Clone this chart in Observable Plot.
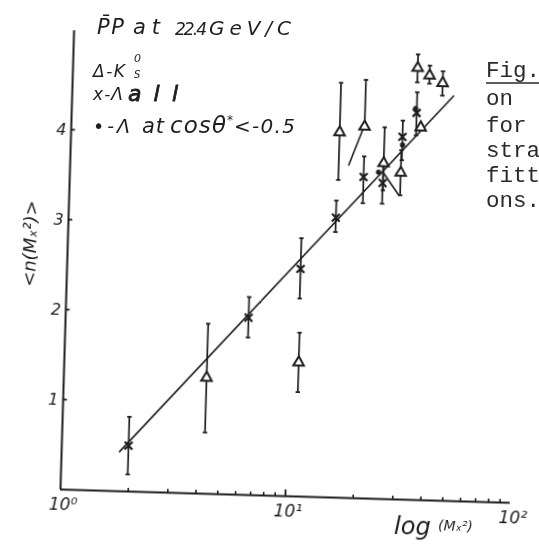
<!DOCTYPE html>
<html><head><meta charset="utf-8">
<script src="https://cdn.jsdelivr.net/npm/d3@7"></script>
<script src="https://cdn.jsdelivr.net/npm/@observablehq/plot@0.6"></script>
<style>
html,body{margin:0;padding:0;background:#fff;}
#wrap{position:relative;width:539px;height:548px;overflow:hidden;background:#fff;}
#chart{position:absolute;left:0;top:0;width:539px;height:548px;}
#overlay{position:absolute;left:0;top:0;}
</style></head><body>
<div id="wrap"><div id="chart"></div>
<svg id="overlay" width="539" height="548" xmlns="http://www.w3.org/2000/svg">
  <g fill="#1e1e1e" font-family="DejaVu Sans" font-style="italic">
    <text x="97" y="34" font-size="21" textLength="27" lengthAdjust="spacing">P̄P</text>
    <text x="133" y="34" font-size="21" textLength="27" lengthAdjust="spacing">at</text>
    <text x="175" y="35" font-size="17" textLength="32" lengthAdjust="spacing">22.4</text>
    <text x="209" y="35" font-size="20" textLength="82" lengthAdjust="spacing">GeV/C</text>

    <text x="93" y="77" font-size="17" textLength="32" lengthAdjust="spacing">Δ-K</text>
    <text x="134" y="62" font-size="11">0</text>
    <text x="134" y="78" font-size="10">S</text>

    <text x="93" y="100" font-size="17" textLength="30" lengthAdjust="spacing">x-Λ</text>
    <text x="128" y="101" font-size="22" stroke="#1e1e1e" stroke-width="0.8" textLength="50" lengthAdjust="spacing">all</text>

    <text x="93" y="133" font-size="19" textLength="37" lengthAdjust="spacing">•-Λ</text>
    <text x="142" y="133" font-size="21" textLength="22" lengthAdjust="spacing">at</text>
    <text x="170" y="133" font-size="23" textLength="56" lengthAdjust="spacing">cosθ</text>
    <text x="227" y="124" font-size="12">*</text>
    <text x="234" y="133" font-size="20" textLength="61" lengthAdjust="spacing">&lt;-0.5</text>
  </g>
  <g fill="#2a2a2a" font-family="Liberation Mono" font-size="22.5">
    <text x="486" y="77">Fig.</text>
    <text x="486" y="105">on</text>
    <text x="486" y="132">for</text>
    <text x="486" y="157">stra</text>
    <text x="486" y="182">fitt</text>
    <text x="486" y="207">ons.</text>
  </g>
  <line x1="486" y1="83" x2="539" y2="83" stroke="#2a2a2a" stroke-width="1.5"/>
</svg>
</div>
<script>
// Λ all (x marks): M_x^2, <n>, error low, error high
const lamAllM2 = [1.98, 6.5, 10.9, 15.4, 20.2, 24.6, 29.7, 34.1];
const lamAllN  = [0.51, 1.97, 2.53, 3.11, 3.57, 3.51, 4.03, 4.30];
const lamAllLo = [0.19, 1.75, 2.20, 2.95, 3.28, 3.28, 3.77, 4.05];
const lamAllHi = [0.83, 2.20, 2.87, 3.30, 3.80, 3.71, 4.21, 4.53];

// K0s (triangles)
const k0M2 = [4.31, 11.0, 15.6, 20.1, 24.7, 29.5, 35.7, 34.0, 38.5, 44.1];
const k0N  = [1.29, 1.49, 4.06, 4.13, 3.73, 3.63, 4.14, 4.80, 4.72, 4.64];
const k0Lo = [0.68, 1.16, 3.53, 4.13, 3.43, 3.38, 4.14, 4.64, 4.63, 4.50];
const k0Hi = [1.89, 1.82, 4.61, 4.65, 4.13, 3.88, 4.14, 4.95, 4.83, 4.77];

// Λ at cosθ* < -0.5 (dots)
const lamBackM2 = [23.5, 29.8, 33.7];
const lamBackN  = [3.63, 3.94, 4.35];

// fitted straight line
const fitM2 = [1.81, 49.5];
const fitN  = [0.44, 4.50];

// extra short strokes drawn in the figure
const strokeM2 = [17.3, 19.9, 24.8, 29.1];
const strokeN  = [3.70, 4.12, 3.62, 3.38];
const strokeId = ["a", "a", "b", "b"];

// axis ticks and labels
const xMinorTicks = [2,3,4,5,6,7,8,9,20,30,40,50,60,70,80,90];
const xMajorTicks = [10];
const xLabelPos = [1, 10, 100];
const xLabelText = ["10⁰", "10¹", "10²"];
const yTicks = [1, 2, 3, 4];
const yTop = 5.1;

const ink = "#1e1e1e";
const hbar = {draw(ctx, size){ const r = Math.sqrt(size / Math.PI); ctx.moveTo(-r, 0); ctx.lineTo(r, 0); }};

const idx = a => a.map((_, i) => i);
const lamAll = idx(lamAllM2).map(i => ({m: lamAllM2[i], n: lamAllN[i], lo: lamAllLo[i], hi: lamAllHi[i]}));
const k0 = idx(k0M2).map(i => ({m: k0M2[i], n: k0N[i], lo: k0Lo[i], hi: k0Hi[i]}));
const lamBack = idx(lamBackM2).map(i => ({m: lamBackM2[i], n: lamBackN[i]}));
const fit = idx(fitM2).map(i => ({m: fitM2[i], n: fitN[i]}));
const strokes = idx(strokeM2).map(i => ({m: strokeM2[i], n: strokeN[i], id: strokeId[i]}));
const bars = [...lamAll, ...k0];
const caps = bars.flatMap(d => d.hi > d.lo ? [{m: d.m, n: d.lo}, {m: d.m, n: d.hi}] : []);

const chart = Plot.plot({
  width: 539, height: 548,
  marginLeft: 60, marginRight: 29, marginTop: 30, marginBottom: 59,
  x: {type: "log", domain: [1, 100], axis: null},
  y: {domain: [0, yTop], axis: null},
  style: {background: "transparent", fontFamily: "DejaVu Sans", color: ink},
  marks: [
    // axes
    Plot.ruleX([1], {y1: 0, y2: yTop, stroke: ink, strokeWidth: 2}),
    Plot.ruleY([0], {x1: 1, x2: 100, stroke: ink, strokeWidth: 2}),
    Plot.ruleX(xMinorTicks, {y1: 0, y2: 0.035, stroke: ink, strokeWidth: 1.6}),
    Plot.ruleX(xMajorTicks, {y1: 0, y2: 0.07, stroke: ink, strokeWidth: 1.8}),
    Plot.ruleY(yTicks, {x1: 1, x2: 1.045, stroke: ink, strokeWidth: 1.8}),
    Plot.text(idx(xLabelPos), {x: i => xLabelPos[i], y: 0, text: i => xLabelText[i], dy: 15, dx: 3, fontSize: 17, fontStyle: "italic", fill: ink}),
    Plot.text(yTicks, {x: 1, y: d => d, text: d => String(d), dx: -10, fontSize: 16, fontStyle: "italic", fill: ink}),
    Plot.text(["<n(Mₓ²)>"], {x: 1, y: 2.72, dx: -37, rotate: -90, fontSize: 18, fontStyle: "italic", fill: ink}),
    Plot.text(["log"], {x: 37, y: 0, dy: 27, fontSize: 24, fontStyle: "italic", fill: ink}),
    Plot.text(["(Mₓ²)"], {x: 57.5, y: 0, dy: 25, fontSize: 14, fontStyle: "italic", fill: ink}),
    // fit line and strokes
    Plot.line(fit, {x: "m", y: "n", stroke: ink, strokeWidth: 1.6}),
    Plot.line(strokes, {x: "m", y: "n", z: "id", stroke: ink, strokeWidth: 1.6}),
    // error bars
    Plot.ruleX(bars, {x: "m", y1: "lo", y2: "hi", stroke: ink, strokeWidth: 1.7}),
    Plot.dot(caps, {x: "m", y: "n", symbol: hbar, r: 2.2, stroke: ink, strokeWidth: 1.8}),
    // markers
    Plot.dot(lamAll, {x: "m", y: "n", symbol: "times", r: 3.6, stroke: ink, strokeWidth: 2.2}),
    Plot.dot(k0, {x: "m", y: "n", symbol: "triangle", r: 3.9, fill: "white", stroke: ink, strokeWidth: 2}),
    Plot.dot(lamBack, {x: "m", y: "n", r: 2.6, fill: ink, stroke: "none"})
  ]
});
chart.style.position = "absolute";
chart.style.left = "0px";
chart.style.top = "0px";
chart.style.transformOrigin = "60px 489px";
chart.style.transform = "rotate(1.7deg)";
chart.style.willChange = "transform";
document.getElementById("chart").appendChild(chart);
</script>
</body></html>
